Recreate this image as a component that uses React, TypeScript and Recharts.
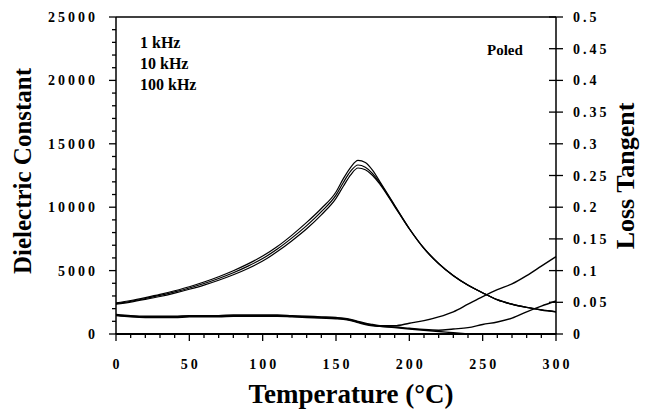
import { ComposedChart, Line, XAxis, YAxis, ReferenceLine } from "recharts";

// temperature (°C)
const temps = [
  0, 10, 20, 30, 40, 50, 60, 70, 80, 90, 100, 110, 120, 130, 140, 150,
  155, 160, 165, 170, 175,
  180, 190, 200, 210, 220, 230, 240, 250, 260, 270, 280, 290, 300,
];

// dielectric constant
const dielectric1k = [
  2450, 2640, 2870, 3120, 3410, 3730, 4100, 4520, 4990, 5530, 6150, 6900, 7800, 8800, 9900, 11200,
  12250, 13150, 13700, 13520, 12900,
  12000, 10150, 8320, 6770, 5570, 4610, 3860, 3260, 2710, 2360, 2110, 1910, 1760,
];
const dielectric10k = [
  2400, 2580, 2800, 3040, 3320, 3630, 3980, 4380, 4830, 5350, 5950, 6700, 7580, 8550, 9650, 10950,
  11950, 12850, 13330, 13150, 12650,
  11900, 10100, 8300, 6750, 5550, 4600, 3850, 3250, 2700, 2350, 2100, 1900, 1750,
];
const dielectric100k = [
  2350, 2520, 2730, 2960, 3230, 3530, 3860, 4240, 4670, 5170, 5750, 6500, 7360, 8300, 9400, 10700,
  11650, 12550, 13090, 12950, 12500,
  11800, 10050, 8280, 6730, 5540, 4590, 3840, 3240, 2690, 2340, 2090, 1890, 1740,
];

// loss tangent
const loss1k = [
  0.031, 0.029, 0.028, 0.028, 0.028, 0.029, 0.029, 0.029, 0.03, 0.03, 0.03, 0.03, 0.029, 0.028, 0.027, 0.026,
  0.025, 0.023, 0.02, 0.017, 0.015,
  0.013, 0.013, 0.017, 0.021, 0.027, 0.035, 0.047, 0.059, 0.07, 0.079, 0.092, 0.107, 0.122,
];
const loss10k = [
  0.03, 0.028, 0.027, 0.027, 0.027, 0.028, 0.028, 0.028, 0.029, 0.029, 0.029, 0.029, 0.028, 0.027, 0.026, 0.025,
  0.024, 0.022, 0.019, 0.016, 0.014,
  0.012, 0.011, 0.009, 0.007, 0.006, 0.008, 0.01, 0.015, 0.019, 0.025, 0.035, 0.044, 0.052,
];
const loss100k = [
  0.029, 0.027, 0.026, 0.026, 0.026, 0.027, 0.027, 0.027, 0.028, 0.028, 0.028, 0.028, 0.027, 0.026, 0.025, 0.024,
  0.023, 0.021, 0.018, 0.015, 0.013,
  0.012, 0.01, 0.008, 0.006, 0.004, 0.002, 0.0, null, null, null, null, null, null,
];

const xTicks = [
  0, 10, 20, 30, 40, 50, 60, 70, 80, 90, 100, 110, 120, 130, 140, 150,
  160, 170, 180, 190, 200, 210, 220, 230, 240, 250, 260, 270, 280, 290, 300,
];
const leftTicks = [
  0, 1000, 2000, 3000, 4000, 5000, 6000, 7000, 8000, 9000, 10000, 11000, 12000,
  13000, 14000, 15000, 16000, 17000, 18000, 19000, 20000, 21000, 22000, 23000, 24000, 25000,
];
const rightTicks = [0, 0.05, 0.1, 0.15, 0.2, 0.25, 0.3, 0.35, 0.4, 0.45, 0.5];
const legendLabels = ["1 kHz", "10 kHz", "100 kHz"];

const data = temps.map((t, i) => ({
  t,
  e1: dielectric1k[i],
  e10: dielectric10k[i],
  e100: dielectric100k[i],
  l1: loss1k[i],
  l10: loss10k[i],
  l100: loss100k[i],
}));

const FONT = "'Liberation Serif', 'Times New Roman', serif";
const PLOT_LEFT = 116;
const PLOT_RIGHT = 556;
const PLOT_BOTTOM = 334;

const tickText = {
  fontFamily: FONT,
  fontWeight: 700,
  fontSize: 14,
  letterSpacing: 3,
  fill: "#000",
};

function LeftTick({ y, payload }: any) {
  const major = payload.value % 5000 === 0;
  return (
    <g>
      <line x1={major ? 109 : 112} x2={PLOT_LEFT} y1={y} y2={y} stroke="#000" strokeWidth={1.3} />
      {major && (
        <text x={98} y={y + 5} textAnchor="end" {...tickText}>
          {payload.value}
        </text>
      )}
    </g>
  );
}

function RightTick({ y, payload }: any) {
  return (
    <g>
      <line x1={PLOT_RIGHT - 7} x2={PLOT_RIGHT + 7} y1={y} y2={y} stroke="#000" strokeWidth={1.3} />
      <text x={573} y={y + 5} textAnchor="start" {...tickText}>
        {payload.value}
      </text>
    </g>
  );
}

function BottomTick({ x, payload }: any) {
  const major = payload.value % 50 === 0;
  return (
    <g>
      <line x1={x} x2={x} y1={PLOT_BOTTOM - (major ? 1 : 0)} y2={PLOT_BOTTOM + (major ? 7 : 4)} stroke="#000" strokeWidth={1.3} />
      {major && (
        <text x={x + 1.5} y={369} textAnchor="middle" {...tickText}>
          {payload.value}
        </text>
      )}
    </g>
  );
}

export default function App() {
  const lineProps = {
    type: "monotone" as const,
    dot: false,
    stroke: "#000",
    strokeWidth: 1.2,
    isAnimationActive: false,
    activeDot: false,
  };

  return (
    <div style={{ position: "absolute", left: 0, top: 0, background: "#fff" }}>
      <ComposedChart
        width={653}
        height={411}
        data={data}
        margin={{ top: 17, right: 0, bottom: 0, left: 0 }}
      >
        <XAxis
          dataKey="t"
          type="number"
          domain={[0, 300]}
          ticks={xTicks}
          interval={0}
          height={77}
          tickLine={false}
          tickSize={0}
          axisLine={{ stroke: "#000", strokeWidth: 2 }}
          tick={<BottomTick />}
          label={{
            content: () => (
              <text x={351} y={403} textAnchor="middle" fontFamily={FONT} fontWeight={700} fontSize={27} fill="#000">
                Temperature (°C)
              </text>
            ),
          }}
        />
        <YAxis
          yAxisId="left"
          orientation="left"
          domain={[0, 25000]}
          ticks={leftTicks}
          interval={0}
          width={116}
          tickLine={false}
          tickSize={0}
          axisLine={{ stroke: "#000", strokeWidth: 1.5 }}
          tick={<LeftTick />}
          label={{
            content: () => (
              <text
                x={31}
                y={171}
                transform="rotate(-90 31 171)"
                textAnchor="middle"
                fontFamily={FONT}
                fontWeight={700}
                fontSize={25}
                fill="#000"
              >
                Dielectric Constant
              </text>
            ),
          }}
        />
        <YAxis
          yAxisId="right"
          orientation="right"
          domain={[0, 0.5]}
          ticks={rightTicks}
          interval={0}
          width={97}
          tickLine={false}
          tickSize={0}
          axisLine={{ stroke: "#000", strokeWidth: 1.5 }}
          tick={<RightTick />}
          label={{
            content: () => (
              <text
                x={634}
                y={176}
                transform="rotate(-90 634 176)"
                textAnchor="middle"
                fontFamily={FONT}
                fontWeight={700}
                fontSize={26}
                fill="#000"
              >
                Loss Tangent
              </text>
            ),
          }}
        />
        <ReferenceLine yAxisId="left" y={25000} stroke="#000" strokeWidth={1.5} />

        <Line yAxisId="left" dataKey="e1" {...lineProps} />
        <Line yAxisId="left" dataKey="e10" {...lineProps} />
        <Line yAxisId="left" dataKey="e100" {...lineProps} />
        <Line yAxisId="right" dataKey="l1" {...lineProps} strokeWidth={1.4} />
        <Line yAxisId="right" dataKey="l10" {...lineProps} strokeWidth={1.4} />
        <Line yAxisId="right" dataKey="l100" {...lineProps} strokeWidth={1.4} />

        {legendLabels.map((label, i) => (
          <text
            key={label}
            x={140}
            y={48 + i * 21}
            fontFamily={FONT}
            fontWeight={700}
            fontSize={16}
            fill="#000"
          >
            {label}
          </text>
        ))}
        <text x={487} y={55} fontFamily={FONT} fontWeight={700} fontSize={15} fill="#000">
          Poled
        </text>
      </ComposedChart>
    </div>
  );
}
